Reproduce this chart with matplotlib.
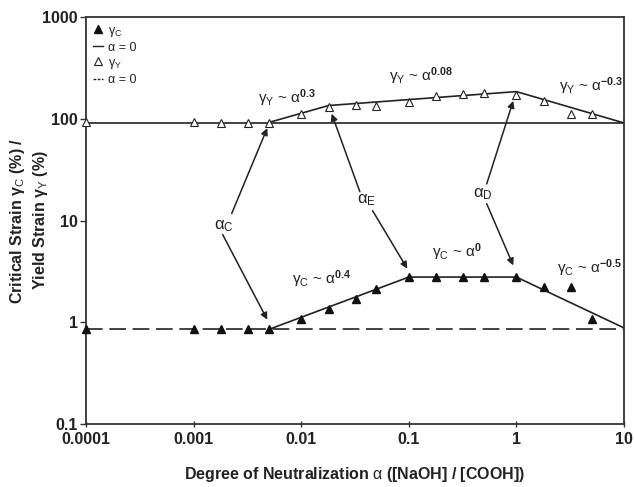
import matplotlib
matplotlib.use("Agg")
import matplotlib.pyplot as plt
from matplotlib.lines import Line2D

plt.rcParams['font.family'] = ['Liberation Sans', 'DejaVu Sans']
plt.rcParams['mathtext.fontset'] = 'custom'
plt.rcParams['mathtext.rm'] = 'Liberation Sans'
plt.rcParams['mathtext.it'] = 'Liberation Sans:italic'
plt.rcParams['mathtext.bf'] = 'Liberation Sans:bold'

# ---------------- data ----------------
alpha = [0.0001, 0.001, 0.0018, 0.0032, 0.005, 0.01, 0.018, 0.032, 0.05,
         0.1, 0.18, 0.32, 0.5, 1.0, 1.8, 3.2, 5.0]
gamma_c = [0.85, 0.85, 0.85, 0.85, 0.85, 1.07, 1.35, 1.71, 2.14,
           2.78, 2.78, 2.78, 2.78, 2.78, 2.2, 2.22, 1.07]
gamma_y = [92, 94, 91, 91, 91, 111, 132, 137, 133,
           145, 168, 176, 180, 172, 150, 111, 111]

fit_c_x = [0.005, 0.1, 1.0, 10.0]
fit_c_y = [0.85, 2.78, 2.78, 0.88]
fit_y_x = [0.005, 0.018, 1.0, 10.0]
fit_y_y = [92, 135, 185, 91]

c_alpha0 = 0.85
y_alpha0 = 91.4

xticks = [0.0001, 0.001, 0.01, 0.1, 1, 10]
xticklabels = ['0.0001', '0.001', '0.01', '0.1', '1', '10']
yticks = [0.1, 1, 10, 100, 1000]
yticklabels = ['0.1', '1', '10', '100', '1000']

# ---------------- figure ----------------
fig = plt.figure(figsize=(6.34, 4.87), dpi=100)
ax = fig.add_axes([0.1356, 0.1294, 0.8486, 0.8356])
ax.set_xscale('log')
ax.set_yscale('log')
ax.set_xlim(0.0001, 10)
ax.set_ylim(0.1, 1000)

# baselines
ax.axhline(y_alpha0, color='#222222', lw=1.2)
ax.axhline(c_alpha0, color='#222222', lw=1.2, dashes=(10, 4))

# fits
ax.plot(fit_y_x, fit_y_y, color='#222222', lw=1.2)
ax.plot(fit_c_x, fit_c_y, color='#222222', lw=1.2)

# data
ax.plot(alpha, gamma_c, linestyle='none', marker='^', ms=6, mfc='#111111',
        mec='#111111', clip_on=False, zorder=5)
ax.plot(alpha, gamma_y, linestyle='none', marker='^', ms=6, mfc='white',
        mec='#222222', mew=0.8, clip_on=False, zorder=5)

# ticks
ax.set_xticks(xticks)
ax.set_xticklabels(xticklabels)
ax.set_yticks(yticks)
ax.set_yticklabels(yticklabels)
ax.minorticks_off()
ax.tick_params(axis='x', direction='inout', length=5, width=1, pad=3, colors='#333333')
ax.tick_params(axis='y', direction='out', length=4, width=1, pad=2, colors='#333333')
for lab in ax.get_xticklabels() + ax.get_yticklabels():
    lab.set_fontweight('bold')
    lab.set_fontsize(11.5)
    lab.set_color('#222222')
for s in ax.spines.values():
    s.set_linewidth(1.3)
    s.set_color('#333333')

ax.set_xlabel('Degree of Neutralization $\\mathrm{α}$ ([NaOH] / [COOH])',
              fontsize=11.5, fontweight='bold', color='#222222')
ax.xaxis.set_label_coords(0.5, -0.1)
ax.set_ylabel('Critical Strain γ$_\\mathrm{C}$ (%) /\nYield Strain γ$_\\mathrm{Y}$ (%)',
              fontsize=11.5, fontweight='bold', color='#222222', linespacing=1.3)
ax.yaxis.set_label_coords(-0.066, 0.5)

# power-law labels
tkw = dict(fontsize=11, ha='center', va='center', color='#222222')
ax.text(0.0074, 161, r'γ$_\mathrm{Y}$ ~ α$^{\mathbf{0.3}}$', **tkw)
ax.text(0.13, 264, r'γ$_\mathrm{Y}$ ~ α$^{\mathbf{0.08}}$', **tkw)
ax.text(5.0, 211, r'γ$_\mathrm{Y}$ ~ α$^{\mathbf{-0.3}}$', **tkw)
ax.text(0.0156, 2.64, r'γ$_\mathrm{C}$ ~ α$^{\mathbf{0.4}}$', **tkw)
ax.text(0.28, 4.85, r'γ$_\mathrm{C}$ ~ α$^{\mathbf{0}}$', **tkw)
ax.text(4.83, 3.38, r'γ$_\mathrm{C}$ ~ α$^{\mathbf{-0.5}}$', **tkw)

# critical points with arrows
akw = dict(arrowstyle='-|>', color='#222222', lw=1.1, mutation_scale=10,
           shrinkA=0, shrinkB=0)
lkw = dict(fontsize=12, ha='center', va='center', color='#222222')
ax.text(0.00192, 8.73, r'α$_\mathrm{C}$', **lkw)
ax.annotate('', xy=(0.00484, 81), xytext=(0.00226, 11.7), arrowprops=akw)
ax.annotate('', xy=(0.00484, 1.06), xytext=(0.00186, 7.3), arrowprops=akw)

ax.text(0.0409, 15.7, r'α$_\mathrm{E}$', **lkw)
ax.annotate('', xy=(0.0192, 112), xytext=(0.0351, 19.2), arrowprops=akw)
ax.annotate('', xy=(0.0969, 3.36), xytext=(0.0461, 12.5), arrowprops=akw)

ax.text(0.49, 18.2, r'α$_\mathrm{D}$', **lkw)
ax.annotate('', xy=(0.935, 150), xytext=(0.53, 22.9), arrowprops=akw)
ax.annotate('', xy=(0.935, 3.62), xytext=(0.53, 14.6), arrowprops=akw)

# legend
handles = [
    Line2D([], [], linestyle='none', marker='^', ms=6, mfc='#111111', mec='#111111'),
    Line2D([], [], color='#222222', lw=1.0),
    Line2D([], [], linestyle='none', marker='^', ms=6, mfc='white', mec='#222222', mew=0.8),
    Line2D([], [], color='#222222', lw=1.0, dashes=(2, 1)),
]
labels = [r'γ$_\mathrm{C}$', 'α = 0', r'γ$_\mathrm{Y}$', 'α = 0']
leg = ax.legend(handles, labels, loc='upper left', frameon=False, fontsize=9,
                handlelength=0.8, handletextpad=0.4, labelspacing=0.25,
                borderaxespad=0.3, borderpad=0.3)
for t in leg.get_texts():
    t.set_color('#222222')

fig.savefig('out.png', dpi=100)
